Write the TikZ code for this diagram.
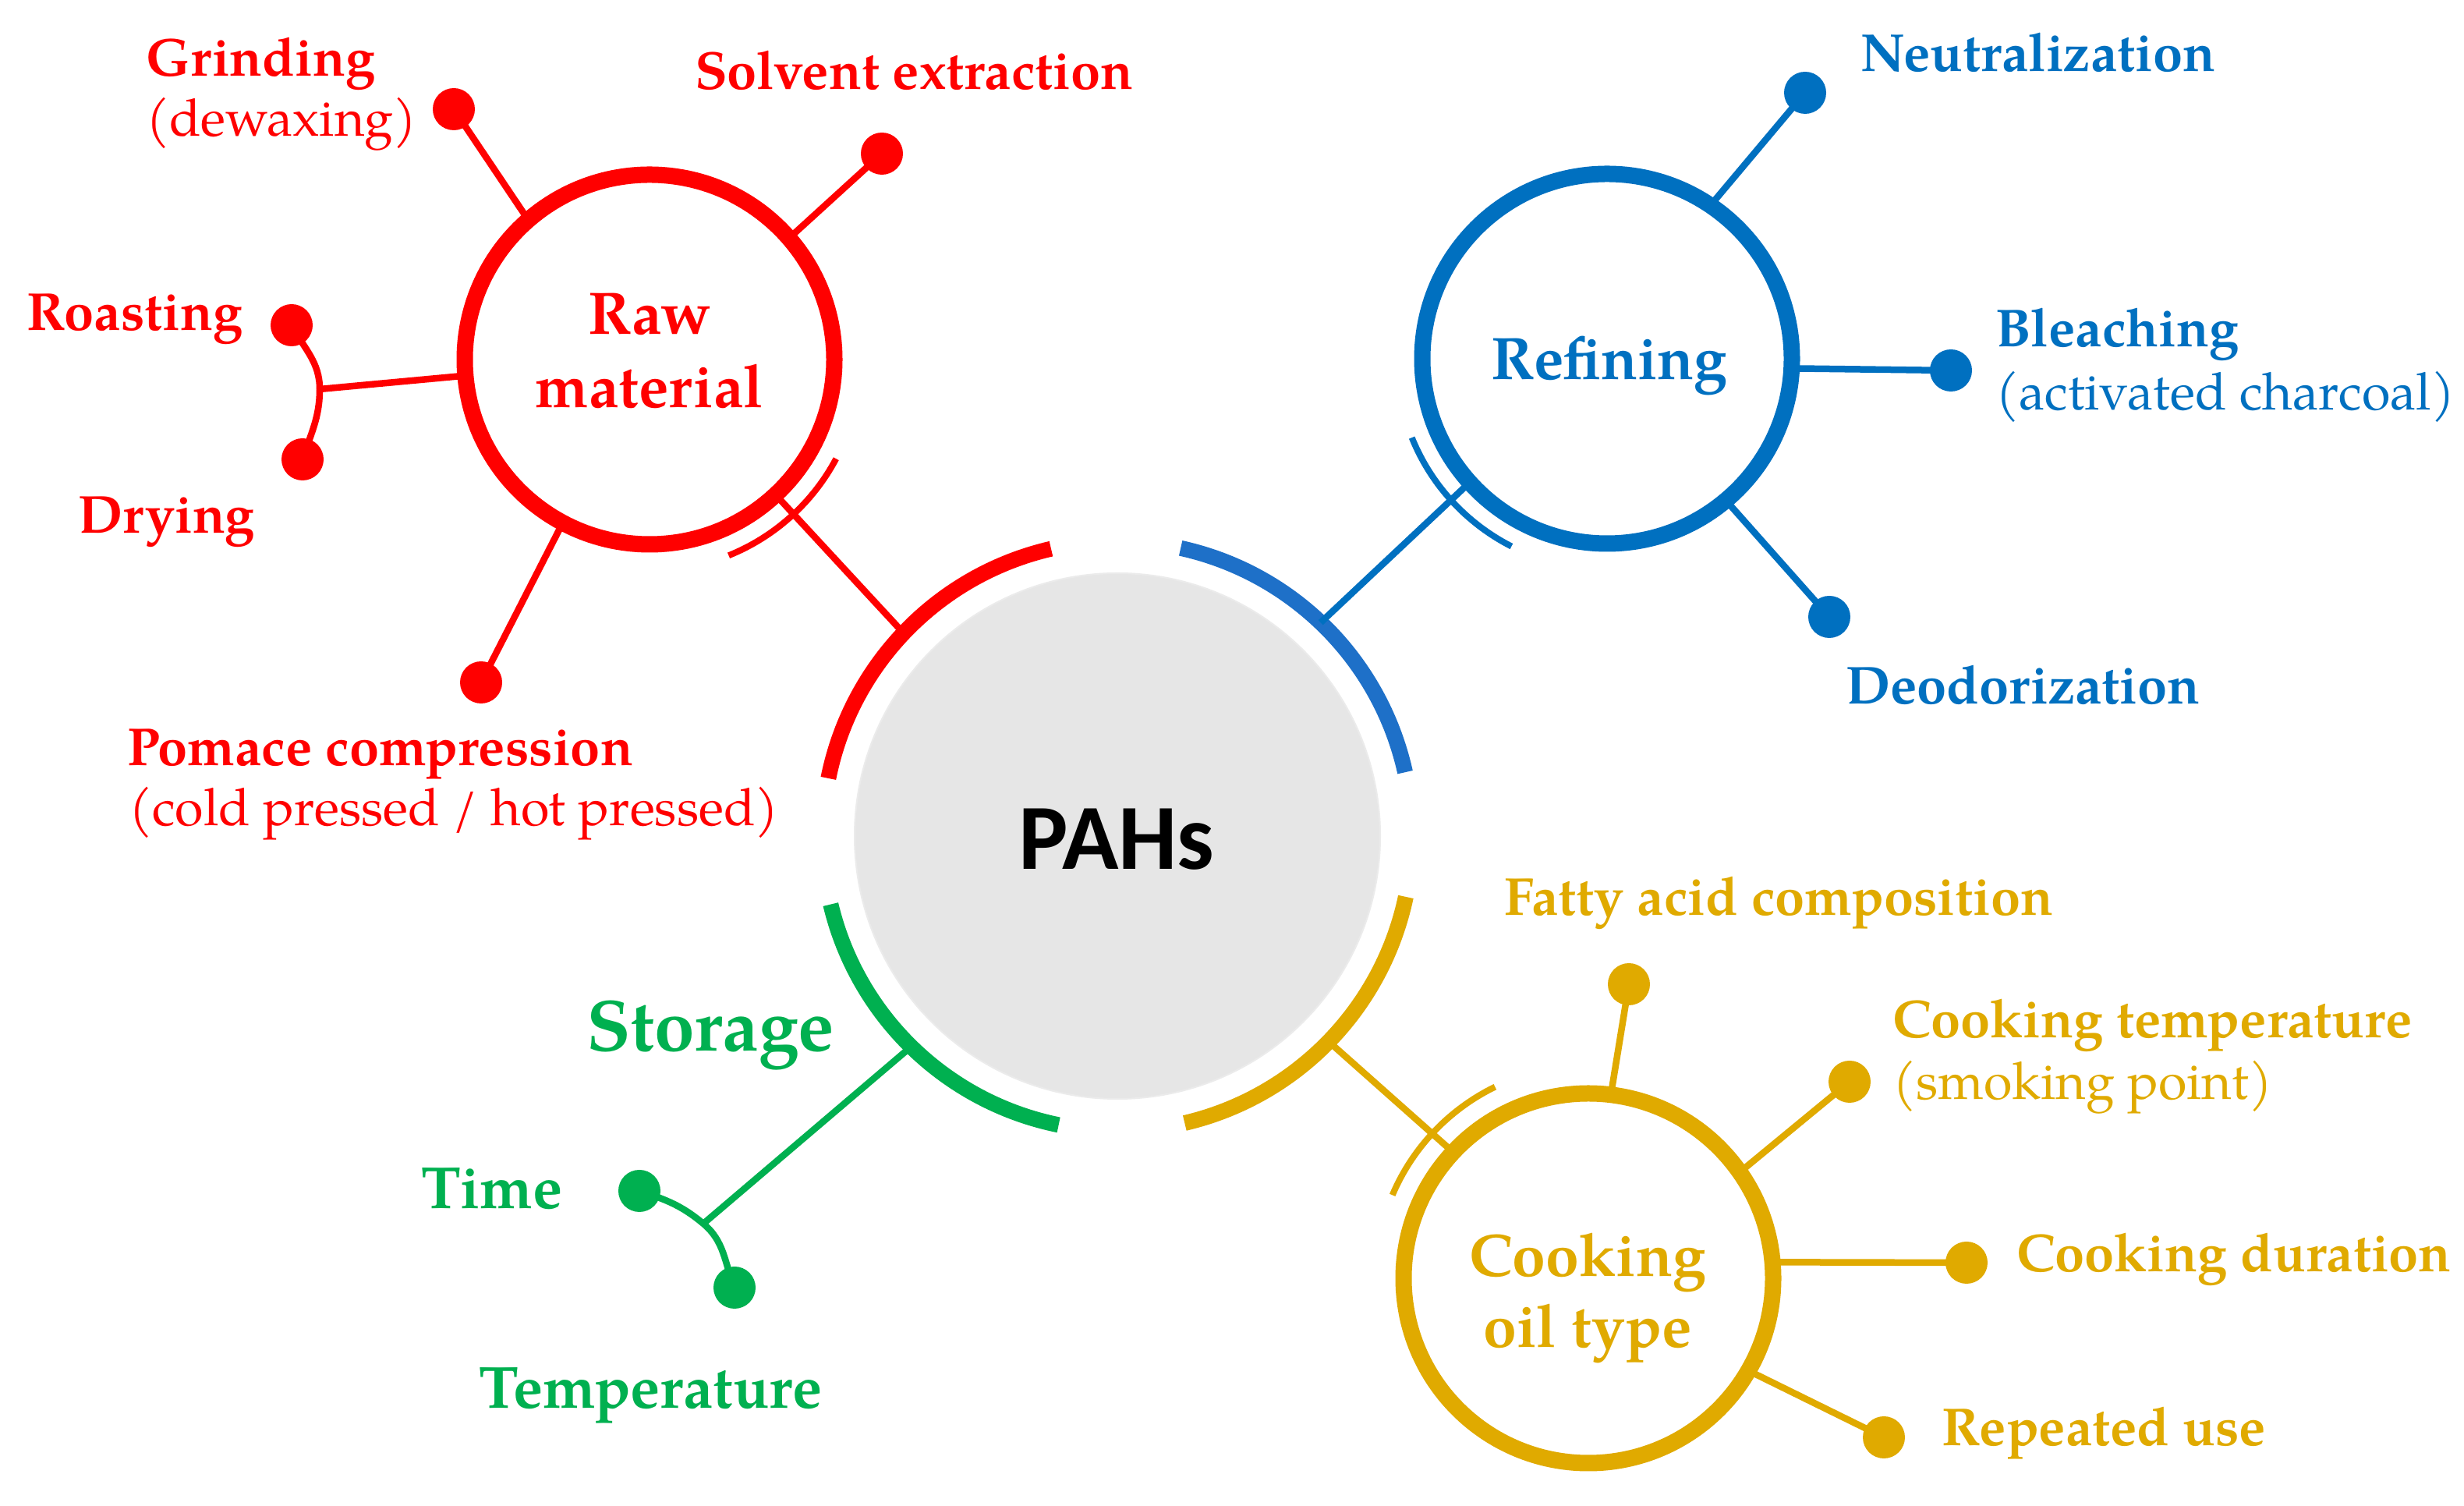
\documentclass[tikz,border=0pt]{standalone}
\usepackage{fontspec}
\setmainfont{texgyrepagella}[Extension=.otf,UprightFont=*-regular,BoldFont=*-bold,ItalicFont=*-italic,BoldItalicFont=*-bolditalic]
\newfontfamily\pahfont{Carlito}
\definecolor{cred}{HTML}{FF0000}
\definecolor{cblue}{HTML}{0070C0}
\definecolor{cbluearc}{HTML}{1E70C8}
\definecolor{cgreen}{HTML}{00B050}
\definecolor{cgold}{HTML}{E0AA00}
\definecolor{cgrey}{HTML}{E6E6E6}
\tikzset{
  lbl/.style={anchor=base west, inner sep=0pt, outer sep=0pt, text=#1, font=\fontsize{19.5}{23}\selectfont\bfseries},
  lblr/.style={anchor=base west, inner sep=0pt, outer sep=0pt, text=#1, font=\fontsize{18.9}{23}\selectfont},
  lblg/.style={anchor=base west, inner sep=0pt, outer sep=0pt, text=#1, font=\fontsize{21.7}{26}\selectfont\bfseries},
  ttl/.style={anchor=base, inner sep=0pt, outer sep=0pt, text=#1, font=\fontsize{21.9}{26}\selectfont\bfseries},
  hub/.style={circle, draw=#1, line width=0.21cm, minimum size=4.74cm, inner sep=0pt, outer sep=0pt},
  dotn/.style={circle, fill=#1, minimum size=0.54cm, inner sep=0pt, outer sep=0pt},
  twig/.style={draw=#1, line width=0.085cm},
  ring/.style={draw=#1, line width=0.20cm},
  guard/.style={draw=#1, line width=0.08cm},
}
\begin{document}
\begin{tikzpicture}
\useasboundingbox (0,0) rectangle (31.60,19.31);
\fill[white] (0,0) rectangle (31.60,19.31);

% central node
\node[circle, fill=cgrey, draw=cgrey!80!white, line width=0.02cm, minimum size=6.74cm, inner sep=0pt] (pah) at (14.33,8.59) {};
\node[anchor=base, inner sep=0pt, font=\pahfont\fontsize{34}{40}\selectfont\bfseries] (pahT) at (14.32,8.16) {PAHs};

% rings around PAHs
\draw[ring=cred] ([shift={(103:3.78)}]pah.center) arc[start angle=103, end angle=168.7, radius=3.78];
\draw[ring=cbluearc] ([shift={(12.5:3.78)}]pah.center) arc[start angle=12.5, end angle=77.6, radius=3.78];
\draw[ring=cgreen] ([shift={(193.4:3.78)}]pah.center) arc[start angle=193.4, end angle=258.5, radius=3.78];
\draw[ring=cgold] ([shift={(283.2:3.78)}]pah.center) arc[start angle=283.2, end angle=348.1, radius=3.78];

\coordinate (pR) at ([shift={(136.5:3.78)}]pah.center);
\coordinate (pB) at ([shift={(46.4:3.78)}]pah.center);
\coordinate (pG) at ([shift={(225.6:3.78)}]pah.center);
\coordinate (pY) at ([shift={(315.8:3.78)}]pah.center);

% ---------------- Raw material (red)
\node[hub=cred] (raw) at (8.33,14.70) {};
\node[ttl=cred] (rawA) at (8.33,15.02) {Raw};
\node[ttl=cred] (rawB) at (8.33,14.08) {material};
\draw[guard=cred] ([shift={(-68:2.71)}]raw.center) arc[start angle=-68, end angle=-28, radius=2.71];
\draw[twig=cred] (raw.313) -- (pR);

\node[dotn=cred] (grind) at (5.82,17.91) {};
\node[dotn=cred] (solv) at (11.31,17.34) {};
\node[dotn=cred] (roast) at (3.74,15.14) {};
\node[dotn=cred] (dry) at (3.88,13.42) {};
\node[dotn=cred] (pom) at (6.17,10.56) {};
\coordinate (jr) at (4.10,14.32);
\draw[twig=cred] (grind.center) -- (raw.131);
\draw[twig=cred] (solv.center) -- (raw.41);
\draw[twig=cred] (pom.center) -- (raw.242);
\draw[twig=cred] (jr) -- (raw.185);
\draw[twig=cred] (roast.center) to[out=-62, in=90] (jr) to[out=-90, in=72] (dry.center);

\node[lbl=cred] (tgrind) at (1.87,18.33) {Grinding};
\node[lblr=cred] (tgrind2) at (1.87,17.56) {(dewaxing)};
\node[lbl=cred] (tsolv) at (8.91,18.16) {Solvent extraction};
\node[lbl=cred] (troast) at (0.34,15.07) {Roasting};
\node[lbl=cred] (tdry) at (1.00,12.47) {Drying};
\node[lbl=cred] (tpom) at (1.63,9.49) {Pomace compression};
\node[lblr=cred] (tpom2) at (1.65,8.72) {(cold pressed / hot pressed)};

% ---------------- Refining (blue)
\node[hub=cblue] (ref) at (20.61,14.71) {};
\node[ttl=cblue] (refT) at (20.64,14.44) {Refining};
\draw[guard=cblue] ([shift={(202:2.70)}]ref.center) arc[start angle=202, end angle=243, radius=2.70];
\draw[twig=cblue] (ref.222) -- (pB);

\node[dotn=cblue] (neut) at (23.15,18.12) {};
\node[dotn=cblue] (blea) at (25.02,14.56) {};
\node[dotn=cblue] (deod) at (23.46,11.40) {};
\draw[twig=cblue] (neut.center) -- (ref.56);
\draw[twig=cblue] (blea.center) -- (ref.357);
\draw[twig=cblue] (deod.center) -- (ref.310);

\node[lbl=cblue] (tneut) at (23.86,18.39) {Neutralization};
\node[lbl=cblue] (tblea) at (25.59,14.86) {Bleaching};
\node[lblr=cblue] (tblea2) at (25.59,14.05) {(activated charcoal)};
\node[lbl=cblue] (tdeod) at (23.67,10.28) {Deodorization};

% ---------------- Storage (green)
\node[anchor=base west, inner sep=0pt, text=cgreen, font=\fontsize{26.4}{31}\selectfont\bfseries] (stor) at (7.52,5.83) {Storage};
\node[dotn=cgreen] (time) at (8.20,4.04) {};
\node[dotn=cgreen] (temp) at (9.42,2.80) {};
\coordinate (jg) at (9.02,3.62);
\draw[twig=cgreen] (time.center) to[out=-18, in=140] (jg) to[out=-40, in=112] (temp.center);
\draw[twig=cgreen] (jg) -- (pG);
\node[lblg=cgreen] (ttime) at (5.40,3.81) {Time};
\node[lblg=cgreen] (ttemp) at (6.14,1.25) {Temperature};

% ---------------- Cooking oil type (gold)
\node[hub=cgold] (cook) at (20.37,2.92) {};
\node[ttl=cgold] (cookA) at (20.36,2.94) {Cooking};
\node[ttl=cgold] (cookB) at (20.36,2.03) {oil type};
\draw[guard=cgold] ([shift={(116:2.73)}]cook.center) arc[start angle=116, end angle=157, radius=2.73];
\draw[twig=cgold] (cook.137) -- (pY);

\node[dotn=cgold] (fatty) at (20.89,6.69) {};
\node[dotn=cgold] (ctemp) at (23.72,5.44) {};
\node[dotn=cgold] (cdur) at (25.22,3.12) {};
\node[dotn=cgold] (rep) at (24.16,0.88) {};
\draw[twig=cgold] (fatty.center) -- (cook.83);
\draw[twig=cgold] (ctemp.center) -- (cook.35);
\draw[twig=cgold] (cdur.center) -- (cook.5);
\draw[twig=cgold] (rep.center) -- (cook.330);

\node[lbl=cgold] (tfatty) at (19.29,7.57) {Fatty acid composition};
\node[lbl=cgold] (tctemp) at (24.27,6.00) {Cooking temperature};
\node[lblr=cgold] (tctemp2) at (24.27,5.21) {(smoking point)};
\node[lbl=cgold] (tcdur) at (25.86,3.00) {Cooking duration};
\node[lbl=cgold] (trep) at (24.90,0.77) {Repeated use};
\end{tikzpicture}
\end{document}
